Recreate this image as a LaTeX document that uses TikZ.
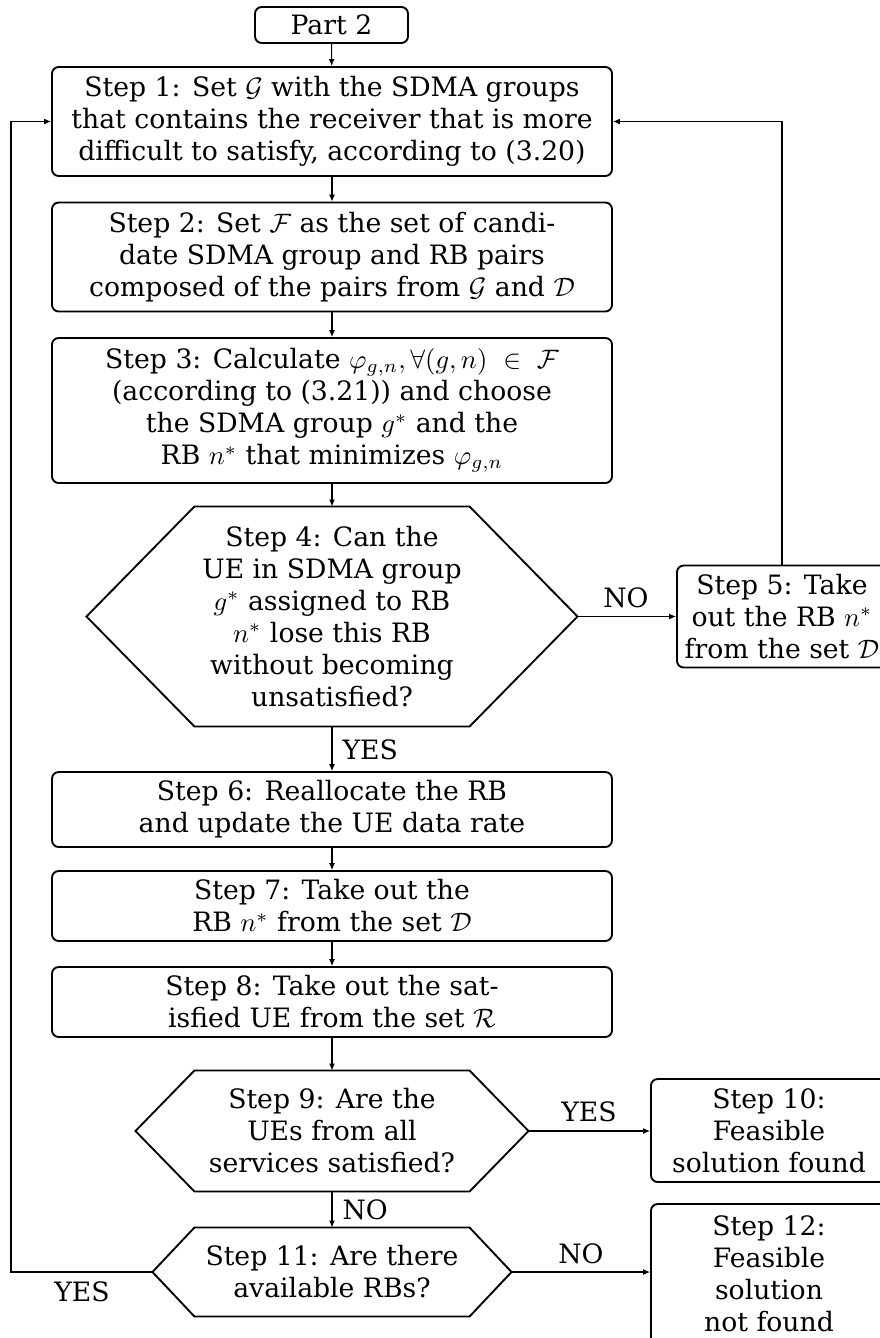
\documentclass[tikz,border=0pt]{standalone}
\usepackage{fontspec}
\setmainfont{DejaVu Serif}
\usetikzlibrary{calc,arrows.meta}
\newcommand\pxu{0.375pt}
\begin{document}
\begin{tikzpicture}[x=0.375pt,y=-0.375pt,
  every node/.style={font=\fontsize{10}{12}\selectfont},
  stepbox/.style={draw,line width=0.7pt,rounded corners=2.5pt,align=center,inner sep=0pt,
    minimum width=560*\pxu},
  sidebox/.style={draw,line width=0.7pt,rounded corners=2.5pt,align=center,inner sep=0pt},
  hexnode/.style={align=center,inner sep=0pt,minimum width=274*\pxu},
  hexline/.style={draw,line width=0.7pt,line join=miter},
  conn/.style={line width=0.4pt,-{Latex[length=2.6pt,width=2.2pt]}},
  lbl/.style={inner sep=0pt}]
\clip (0,0) rectangle (880,1338);

% process boxes of the main column
\node[sidebox,minimum width=153*\pxu,minimum height=36*\pxu] (p2) at (331.5,25) {Part 2};
\node[stepbox,minimum height=109*\pxu] (s1) at (332,121.5)
  {Step 1: Set $\mathcal{G}$ with the SDMA groups\\that contains the receiver that is more\\difficult to satisfy, according to (3.20)};
\node[stepbox,minimum height=109*\pxu] (s2) at (332,257)
  {Step 2: Set $\mathcal{F}$ as the set of candi-\\date SDMA group and RB pairs\\composed of the pairs from $\mathcal{G}$ and $\mathcal{D}$};
\node[stepbox,minimum height=145*\pxu] (s3) at (332,410.5)
  {Step 3: Calculate $\varphi_{g,n}, \forall(g,n)\ \in\ \mathcal{F}$\\(according to (3.21)) and choose\\the SDMA group $g^*$ and the\\RB $n^*$ that minimizes $\varphi_{g,n}$};

% decision: step 4
\node[hexnode,minimum height=219*\pxu] (s4) at (332,616.5)
  {Step 4: Can the\\UE in SDMA group\\$g^*$ assigned to RB\\$n^*$ lose this RB\\without becoming\\unsatisfied?};
\coordinate (s4w) at ($(s4.west)+(-108,0)$);
\coordinate (s4e) at ($(s4.east)+(108,0)$);
\path[hexline] (s4.north west) -- (s4.north east) -- (s4e) -- (s4.south east)
  -- (s4.south west) -- (s4w) -- cycle;

\node[sidebox,minimum width=210*\pxu,minimum height=102*\pxu] (s5) at (782,616.5)
  {Step 5: Take\\out the RB $n^*$\\from the set $\mathcal{D}$};

\node[stepbox,minimum height=75*\pxu] (s6) at (332,809.5)
  {Step 6: Reallocate the RB\\and update the UE data rate};
\node[stepbox,minimum height=70*\pxu] (s7) at (332,906)
  {Step 7: Take out the\\RB $n^*$ from the set $\mathcal{D}$};
\node[stepbox,minimum height=70*\pxu] (s8) at (332,1002)
  {Step 8: Take out the sat-\\isfied UE from the set $\mathcal{R}$};

% decision: step 9
\node[hexnode,minimum height=120*\pxu] (s9) at (332,1131)
  {Step 9: Are the\\UEs from all\\services satisfied?};
\coordinate (s9w) at ($(s9.west)+(-59,0)$);
\coordinate (s9e) at ($(s9.east)+(59,0)$);
\path[hexline] (s9.north west) -- (s9.north east) -- (s9e) -- (s9.south east)
  -- (s9.south west) -- (s9w) -- cycle;

\node[sidebox,minimum width=236*\pxu,minimum height=103*\pxu] (s10) at (769,1130.5)
  {Step 10:\\Feasible\\solution found};

% decision: step 11
\node[hexnode,minimum height=88*\pxu] (s11) at (332,1272)
  {Step 11: Are there\\available RBs?};
\coordinate (s11w) at ($(s11.west)+(-42,0)$);
\coordinate (s11e) at ($(s11.east)+(42,0)$);
\path[hexline] (s11.north west) -- (s11.north east) -- (s11e) -- (s11.south east)
  -- (s11.south west) -- (s11w) -- cycle;

\node[sidebox,minimum width=236*\pxu,minimum height=140*\pxu] (s12) at (769,1274)
  {Step 12:\\Feasible\\solution\\not found};

% connectors
\draw[conn] (p2) -- (s1);
\draw[conn] (s1) -- (s2);
\draw[conn] (s2) -- (s3);
\draw[conn] (s3) -- (s4);
\draw[conn] (s4) -- (s6);
\draw[conn] (s6) -- (s7);
\draw[conn] (s7) -- (s8);
\draw[conn] (s8) -- (s9);
\draw[conn] (s9) -- (s11);
\draw[conn] (s4e) -- (s4e -| s5.west);
\draw[conn] (s5) |- (s1);
\draw[conn] (s9e) -- (s9e -| s10.west);
\draw[conn] (s11e) -- (s11e -| s12.west);
\coordinate (loopl) at (11,1272);
\draw[conn] (s11w) -- (loopl) |- (s1);

% branch labels
\node[lbl] (l4no) at (626,598) {NO};
\node[lbl,anchor=west] (l4yes) at (342,750) {YES};
\node[lbl,anchor=west] (l9no) at (342,1210) {NO};
\node[lbl] (l9yes) at (589,1112) {YES};
\node[lbl] (l11no) at (581,1254) {NO};
\node[lbl] (l11yes) at (82,1292) {YES};
\end{tikzpicture}
\end{document}
